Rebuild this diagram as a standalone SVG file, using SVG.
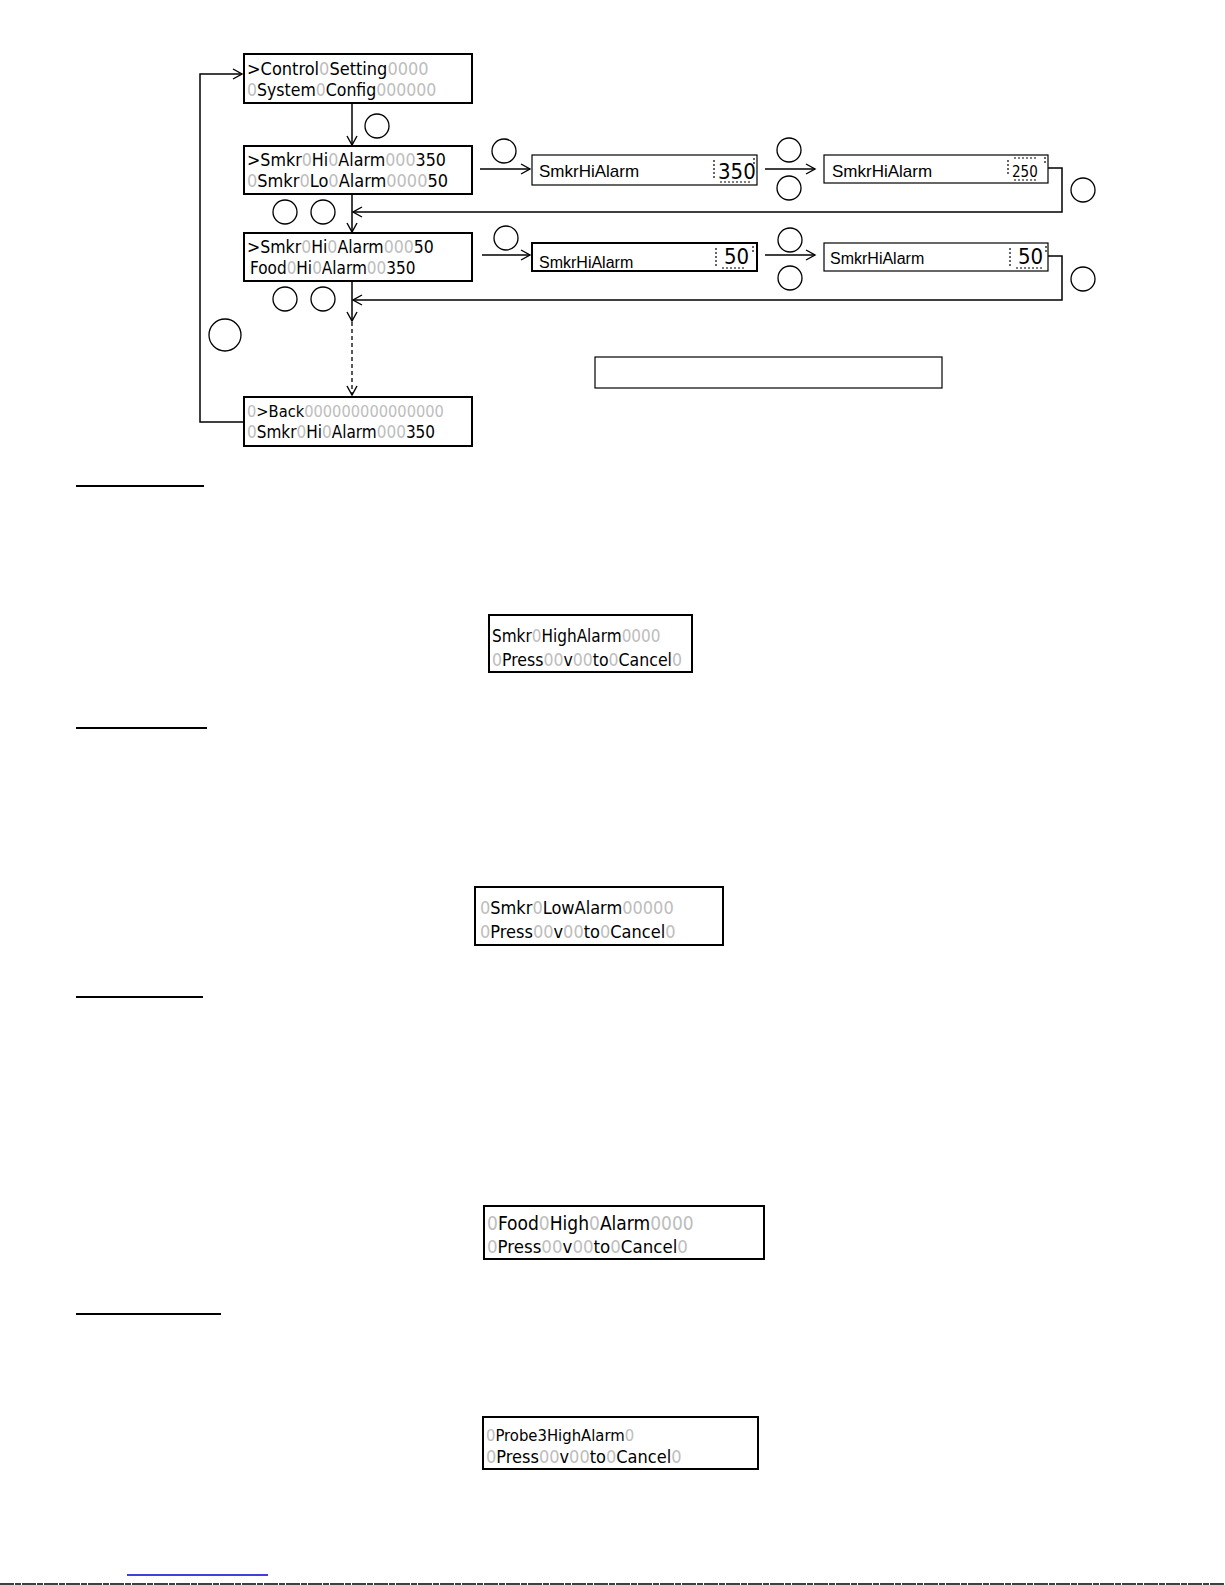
<svg xmlns="http://www.w3.org/2000/svg" width="1225" height="1585" viewBox="0 0 1225 1585">
<style>
.lcd{fill:#fff;stroke:#000;stroke-width:2}
.val{fill:#fff;stroke:#000;stroke-width:1.2}
.t{font-family:"DejaVu Sans","Liberation Sans",sans-serif;font-size:18px;fill:#000;font-stretch:condensed}
.g{fill:#bdbdbd}
.s{font-family:"Liberation Sans",Arial,sans-serif;font-size:17px;fill:#000}
.c{fill:none;stroke:#000;stroke-width:1.3}
.ln{fill:none;stroke:#000;stroke-width:1.5}
.dash{fill:none;stroke:#000;stroke-width:1.3;stroke-dasharray:4 3}
.tick{stroke:#000;stroke-width:1.2;stroke-dasharray:2 2}
.ul{stroke:#000;stroke-width:2}
</style>
<defs>
<marker id="ah" markerWidth="12" markerHeight="12" refX="10" refY="6" orient="auto" markerUnits="userSpaceOnUse">
<path d="M1,1 L10,6 L1,11" fill="none" stroke="#000" stroke-width="1.4"/>
</marker>
</defs>

<g id="connectors">
<path class="ln" d="M352,103 V145" marker-end="url(#ah)"/>
<path class="ln" d="M352,194 V232" marker-end="url(#ah)"/>
<path class="ln" d="M352,281 V321" marker-end="url(#ah)"/>
<path class="dash" d="M352,322 V395" marker-end="url(#ah)"/>
<path class="ln" d="M244,422 H200 V74 H242" marker-end="url(#ah)"/>
<path class="ln" d="M480,169 H530" marker-end="url(#ah)"/>
<path class="ln" d="M765,169 H815" marker-end="url(#ah)"/>
<path class="ln" d="M1048,168 H1062 V212 H353" marker-end="url(#ah)"/>
<path class="ln" d="M482,255 H530" marker-end="url(#ah)"/>
<path class="ln" d="M765,255 H815" marker-end="url(#ah)"/>
<path class="ln" d="M1048,256 H1062 V300 H353" marker-end="url(#ah)"/>
</g>

<g id="buttons">
<circle class="c" cx="377" cy="126" r="12"/>
<circle class="c" cx="285" cy="212" r="12"/>
<circle class="c" cx="323" cy="212" r="12"/>
<circle class="c" cx="285" cy="299" r="12"/>
<circle class="c" cx="323" cy="299" r="12"/>
<circle class="c" cx="225" cy="335" r="16"/>
<circle class="c" cx="504" cy="151" r="12"/>
<circle class="c" cx="789" cy="150" r="12"/>
<circle class="c" cx="789" cy="188" r="12"/>
<circle class="c" cx="1083" cy="190" r="12"/>
<circle class="c" cx="506" cy="238" r="12"/>
<circle class="c" cx="790" cy="240" r="12"/>
<circle class="c" cx="790" cy="278" r="12"/>
<circle class="c" cx="1083" cy="279" r="12"/>
</g>

<g id="lcd-main">
<rect class="lcd" x="244" y="54" width="228" height="49"/>
<text class="t" x="247" y="75">&gt;Control<tspan class="g">0</tspan>Setting<tspan class="g">0000</tspan></text>
<text class="t" x="247" y="96" style="font-size:17.5px"><tspan class="g">0</tspan>System<tspan class="g">0</tspan>Config<tspan class="g">000000</tspan></text>
</g>

<g id="lcd-smkr-hi">
<rect class="lcd" x="244" y="146" width="228" height="48"/>
<text class="t" x="247" y="166" style="font-size:17.7px">&gt;Smkr<tspan class="g">0</tspan>Hi<tspan class="g">0</tspan>Alarm<tspan class="g">000</tspan>350</text>
<text class="t" x="247" y="187"><tspan class="g">0</tspan>Smkr<tspan class="g">0</tspan>Lo<tspan class="g">0</tspan>Alarm<tspan class="g">0000</tspan>50</text>
</g>

<g id="lcd-smkr-lo">
<rect class="lcd" x="244" y="233" width="228" height="48"/>
<text class="t" x="247" y="253" style="font-size:17.5px">&gt;Smkr<tspan class="g">0</tspan>Hi<tspan class="g">0</tspan>Alarm<tspan class="g">000</tspan>50</text>
<text class="t" x="250" y="274" style="font-size:17px">Food<tspan class="g">0</tspan>Hi<tspan class="g">0</tspan>Alarm<tspan class="g">00</tspan>350</text>
</g>

<g id="lcd-back">
<rect class="lcd" x="244" y="397" width="228" height="49"/>
<text class="t" x="247" y="417" style="font-size:16.3px"><tspan class="g">0</tspan>&gt;Back<tspan class="g">000000000000000</tspan></text>
<text class="t" x="247" y="438" style="font-size:17px"><tspan class="g">0</tspan>Smkr<tspan class="g">0</tspan>Hi<tspan class="g">0</tspan>Alarm<tspan class="g">000</tspan>350</text>
</g>

<g id="edit-hi-1">
<rect class="val" x="532" y="155" width="225" height="30"/>
<text class="s" x="539" y="177">SmkrHiAlarm</text>
<text class="t" x="718" y="179" style="font-size:22px">350</text>
<line class="tick" x1="714" y1="160" x2="714" y2="178"/>
<line class="tick" x1="754" y1="158" x2="754" y2="166"/>
<line class="tick" x1="720" y1="182" x2="752" y2="182"/>
</g>

<g id="edit-hi-2">
<rect class="val" x="824" y="155" width="224" height="28"/>
<text class="s" x="832" y="177">SmkrHiAlarm</text>
<text class="t" x="1012" y="177" style="font-size:15px">250</text>
<line class="tick" x1="1008" y1="160" x2="1008" y2="176"/>
<line class="tick" x1="1045" y1="157" x2="1045" y2="163"/>
<line class="tick" x1="1014" y1="158" x2="1036" y2="158"/>
<line class="tick" x1="1014" y1="180" x2="1036" y2="180"/>
</g>

<g id="edit-lo-1">
<rect class="val" x="532" y="243" width="225" height="28" style="stroke-width:2"/>
<text class="s" x="539" y="268" style="font-size:16px">SmkrHiAlarm</text>
<text class="t" x="724" y="264" style="font-size:22px">50</text>
<line class="tick" x1="716" y1="248" x2="716" y2="266"/>
<line class="tick" x1="753" y1="246" x2="753" y2="254"/>
<line class="tick" x1="722" y1="268" x2="746" y2="268"/>
</g>

<g id="edit-lo-2">
<rect class="val" x="824" y="243" width="224" height="28"/>
<text class="s" x="830" y="264" style="font-size:16px">SmkrHiAlarm</text>
<text class="t" x="1018" y="264" style="font-size:22px">50</text>
<line class="tick" x1="1010" y1="248" x2="1010" y2="266"/>
<line class="tick" x1="1046" y1="246" x2="1046" y2="254"/>
<line class="tick" x1="1016" y1="268" x2="1042" y2="268"/>
</g>

<g id="note-box">
<rect class="val" x="595" y="357" width="347" height="31"/>
</g>

<g id="underlines">
<line class="ul" x1="76" y1="486" x2="204" y2="486"/>
<line class="ul" x1="76" y1="728" x2="207" y2="728"/>
<line class="ul" x1="76" y1="997" x2="203" y2="997"/>
<line class="ul" x1="76" y1="1314" x2="221" y2="1314"/>
</g>

<g id="lcd-smkr-high-alarm">
<rect class="lcd" x="489" y="615" width="203" height="57"/>
<text class="t" x="492" y="642" style="font-size:17px">Smkr<tspan class="g">0</tspan>HighAlarm<tspan class="g">0000</tspan></text>
<text class="t" x="492" y="666" style="font-size:17.5px"><tspan class="g">0</tspan>Press<tspan class="g">00</tspan>v<tspan class="g">00</tspan>to<tspan class="g">0</tspan>Cancel<tspan class="g">0</tspan></text>
</g>

<g id="lcd-smkr-low-alarm">
<rect class="lcd" x="475" y="887" width="248" height="58"/>
<text class="t" x="480" y="914"><tspan class="g">0</tspan>Smkr<tspan class="g">0</tspan>LowAlarm<tspan class="g">00000</tspan></text>
<text class="t" x="480" y="938"><tspan class="g">0</tspan>Press<tspan class="g">00</tspan>v<tspan class="g">00</tspan>to<tspan class="g">0</tspan>Cancel<tspan class="g">0</tspan></text>
</g>

<g id="lcd-food-high-alarm">
<rect class="lcd" x="484" y="1206" width="280" height="53"/>
<text class="t" x="487" y="1230" style="font-size:19px"><tspan class="g">0</tspan>Food<tspan class="g">0</tspan>High<tspan class="g">0</tspan>Alarm<tspan class="g">0000</tspan></text>
<text class="t" x="487" y="1253" style="font-size:18.5px"><tspan class="g">0</tspan>Press<tspan class="g">00</tspan>v<tspan class="g">00</tspan>to<tspan class="g">0</tspan>Cancel<tspan class="g">0</tspan></text>
</g>

<g id="lcd-probe3-high-alarm">
<rect class="lcd" x="483" y="1417" width="275" height="52"/>
<text class="t" x="486" y="1441" style="font-size:16.5px"><tspan class="g">0</tspan>Probe3HighAlarm<tspan class="g">0</tspan></text>
<text class="t" x="486" y="1463"><tspan class="g">0</tspan>Press<tspan class="g">00</tspan>v<tspan class="g">00</tspan>to<tspan class="g">0</tspan>Cancel<tspan class="g">0</tspan></text>
</g>

<g id="footer">
<line x1="127" y1="1575" x2="268" y2="1575" stroke="#0000cc" stroke-width="1.5"/>
<line x1="0" y1="1584" x2="1225" y2="1584" stroke="#000" stroke-width="1.5" stroke-dasharray="14 1 6 1"/>
</g>
</svg>
